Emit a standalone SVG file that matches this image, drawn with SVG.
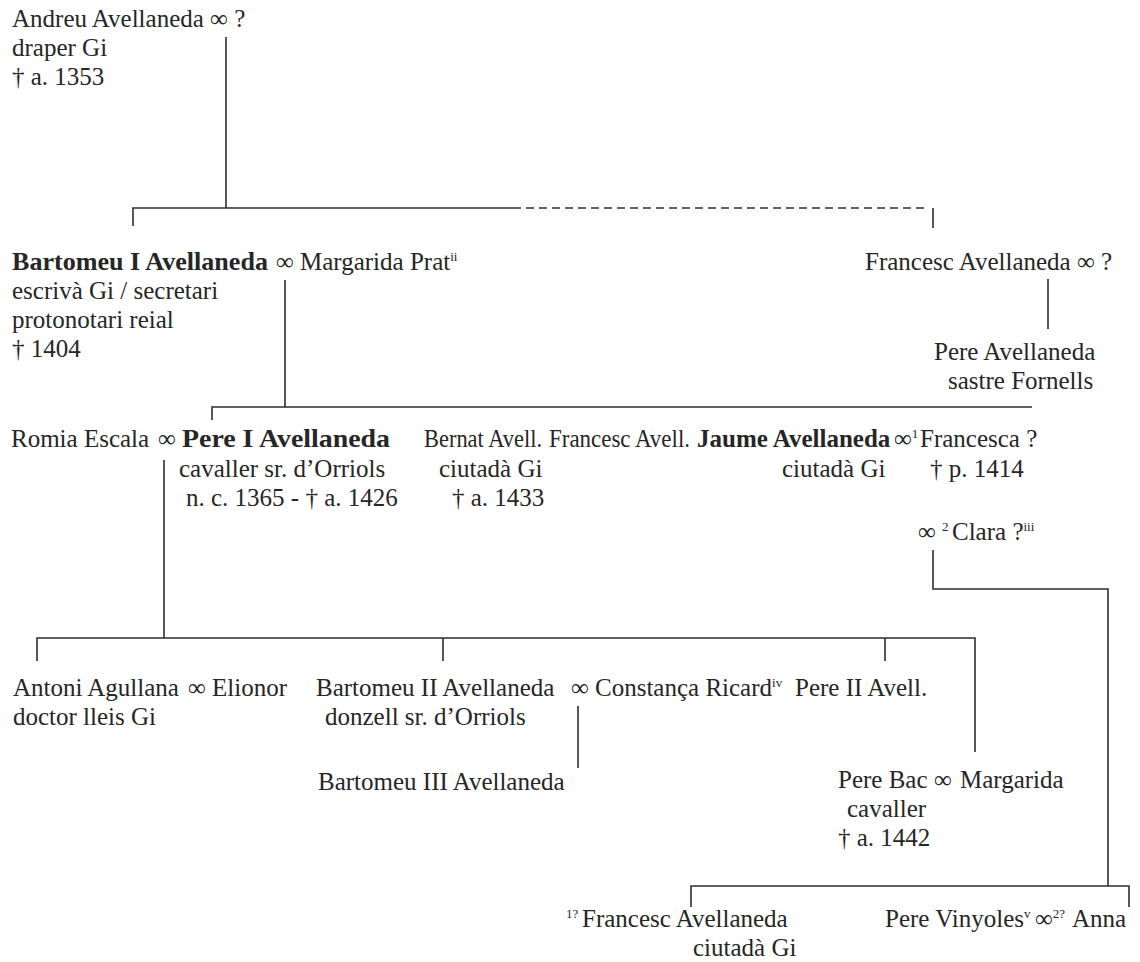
<svg xmlns="http://www.w3.org/2000/svg" width="1140" height="962" viewBox="0 0 1140 962">
<style>
.t{font-family:"Liberation Serif","Times New Roman",serif;font-size:25px;fill:#262626}
.b{font-weight:bold}
.s{font-size:13px}
.ln{stroke:#2e2e2e;stroke-width:1.6;fill:none}
.dash{stroke-dasharray:8 5}
</style>
<rect width="1140" height="962" fill="#fff"/>
<g id="connectors">
<path class="ln" d="M226 37V208M133 226V208H513M933 208V228"/>
<path class="ln dash" d="M513 208H928"/>
<path class="ln" d="M285 280V407M212 420V407H1032"/>
<path class="ln" d="M1048 279V329"/>
<path class="ln" d="M164 460V638M37 661V638H975V752M443 638V661M885 638V661"/>
<path class="ln" d="M578 706V768"/>
<path class="ln" d="M933 550V589H1108V886M691 907V886H1129V907"/>
</g>
<g id="andreu">
<text class="t" x="12" y="27">Andreu Avellaneda ∞ ?</text>
<text class="t" x="12" y="56">draper Gi</text>
<text class="t" x="12" y="85">† a. 1353</text>
</g>
<g id="bartomeu-i">
<text class="t" x="12" y="270"><tspan class="b" textLength="256" lengthAdjust="spacingAndGlyphs">Bartomeu I Avellaneda</tspan><tspan x="276">∞</tspan><tspan x="300">Margarida Prat</tspan><tspan class="s" dy="-9">ii</tspan></text>
<text class="t" x="12" y="299">escrivà Gi / secretari</text>
<text class="t" x="12" y="328">protonotari reial</text>
<text class="t" x="12" y="357">† 1404</text>
</g>
<g id="francesc-i">
<text class="t" x="865" y="270">Francesc Avellaneda ∞ ?</text>
</g>
<g id="pere-avellaneda">
<text class="t" x="934" y="360">Pere Avellaneda</text>
<text class="t" x="948" y="389">sastre Fornells</text>
</g>
<g id="pere-i">
<text class="t" x="11" y="447">Romia Escala <tspan x="158">∞</tspan> <tspan x="182" class="b" textLength="208" lengthAdjust="spacingAndGlyphs">Pere I Avellaneda</tspan></text>
<text class="t" x="179" y="477">cavaller sr. d’Orriols</text>
<text class="t" x="186" y="506">n. c. 1365 - † a. 1426</text>
</g>
<g id="bernat">
<text class="t" x="424" y="447" textLength="118" lengthAdjust="spacingAndGlyphs">Bernat Avell.</text>
<text class="t" x="439" y="477">ciutadà Gi</text>
<text class="t" x="452" y="506">† a. 1433</text>
</g>
<g id="francesc-avell">
<text class="t" x="549" y="447" textLength="141" lengthAdjust="spacingAndGlyphs">Francesc Avell.</text>
</g>
<g id="jaume">
<text class="t" x="697" y="447"><tspan class="b">Jaume Avellaneda</tspan><tspan x="894">∞</tspan><tspan class="s" dy="-9">1</tspan><tspan dy="9" x="920">Francesca ?</tspan></text>
<text class="t" x="782" y="477">ciutadà Gi</text>
<text class="t" x="930" y="477">† p. 1414</text>
<text class="t" x="918" y="540">∞ <tspan class="s" dy="-9">2</tspan><tspan dy="9" x="952">Clara ?</tspan><tspan class="s" dy="-9">iii</tspan></text>
</g>
<g id="antoni">
<text class="t" x="13" y="696">Antoni Agullana <tspan x="188">∞</tspan> <tspan x="212">Elionor</tspan></text>
<text class="t" x="13" y="725">doctor lleis Gi</text>
</g>
<g id="bartomeu-ii">
<text class="t" x="316" y="696">Bartomeu II Avellaneda <tspan x="571">∞</tspan> <tspan x="595">Constança Ricard</tspan><tspan class="s" dy="-9">iv</tspan></text>
<text class="t" x="325" y="725">donzell sr. d’Orriols</text>
</g>
<g id="pere-ii">
<text class="t" x="795" y="696">Pere II Avell.</text>
</g>
<g id="bartomeu-iii">
<text class="t" x="318" y="790">Bartomeu III Avellaneda</text>
</g>
<g id="pere-bac">
<text class="t" x="838" y="788">Pere Bac <tspan x="934">∞</tspan> <tspan x="960">Margarida</tspan></text>
<text class="t" x="847" y="817">cavaller</text>
<text class="t" x="838" y="846">† a. 1442</text>
</g>
<g id="francesc-ii">
<text class="t" x="566" y="927"><tspan class="s" dy="-9">1?</tspan><tspan dy="9" x="582">Francesc Avellaneda</tspan></text>
<text class="t" x="693" y="956">ciutadà Gi</text>
</g>
<g id="anna">
<text class="t" x="885" y="927">Pere Vinyoles<tspan class="s" dy="-9">v</tspan><tspan dy="9" x="1035">∞</tspan><tspan class="s" dy="-9">2?</tspan><tspan dy="9" x="1072">Anna</tspan></text>
</g>
</svg>
